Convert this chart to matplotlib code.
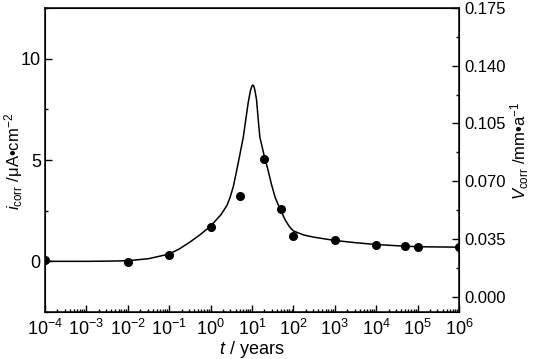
import numpy as np
import matplotlib
matplotlib.use("Agg")
import matplotlib.pyplot as plt
from matplotlib.ticker import LogLocator, NullFormatter, MultipleLocator, FixedLocator

plt.rcParams['font.family'] = ['Liberation Sans', 'DejaVu Sans']
plt.rcParams['mathtext.fontset'] = 'custom'
plt.rcParams['mathtext.rm'] = 'Liberation Sans'
plt.rcParams['mathtext.it'] = 'Liberation Sans:italic'
plt.rcParams['mathtext.bf'] = 'Liberation Sans:bold'

# measured points (t in years, i_corr in uA/cm2)
t_meas = [1e-4, 1e-2, 1e-1, 1, 5, 20, 50, 100, 1e3, 1e4, 5e4, 1e5, 1e6]
i_meas = [0.07, -0.05, 0.3, 1.69, 3.2, 5.05, 2.6, 1.25, 1.05, 0.82, 0.74, 0.7, 0.7]

# model curve (log10 t, i_corr)
logt_fit = [-4.0, -3.5, -3.0, -2.5, -2.0, -1.5, -1.0, -0.75, -0.5, -0.25, 0.0,
            0.25, 0.4, 0.47, 0.55, 0.63, 0.71, 0.79, 0.85, 0.91, 0.96, 1.0, 1.02,
            1.04, 1.07, 1.11, 1.15, 1.19, 1.29, 1.39, 1.47, 1.56, 1.68, 1.8,
            1.9, 2.0, 2.25, 2.5, 3.0, 3.5, 4.0, 4.5, 5.0, 5.5, 6.0]
i_fit = [0.0, 0.0, 0.0, 0.01, 0.03, 0.13, 0.36, 0.62, 0.95, 1.32, 1.74,
         2.3, 2.78, 3.15, 3.7, 4.48, 5.3, 6.13, 7.0, 7.85, 8.4, 8.66, 8.7,
         8.66, 8.45, 7.96, 7.0, 6.13, 5.25, 4.48, 3.8, 3.15, 2.57, 2.05,
         1.72, 1.5, 1.3, 1.19, 1.03, 0.92, 0.83, 0.77, 0.72, 0.71, 0.70]

fs = 12
lfs = 12

fig = plt.figure(figsize=(5.33, 3.59), dpi=100)
ax = fig.add_axes([0.0844, 0.1309, 0.7768, 0.8468])

ax.plot(10 ** np.array(logt_fit), i_fit, color='black', lw=1.1)
ax.plot(t_meas, i_meas, 'o', color='black', ms=5.5, zorder=5)

ax.set_xscale('log')
ax.set_xlim(1e-4, 1e6)
ax.set_ylim(-2.5, 12.5)
ax.xaxis.set_major_locator(FixedLocator([10.0 ** k for k in range(-4, 7)]))
ax.xaxis.set_minor_locator(LogLocator(base=10, subs=np.arange(2, 10), numticks=20))
ax.xaxis.set_minor_formatter(NullFormatter())
ax.set_xticklabels([r'$10^{%d}$' % k for k in range(-4, 7)])
ax.yaxis.set_major_locator(FixedLocator([0, 5, 10]))
ax.yaxis.set_minor_locator(MultipleLocator(2.5))

ax.tick_params(which='major', direction='in', length=5, width=1, labelsize=13, top=False, right=False)
ax.tick_params(which='minor', direction='in', length=2.5, width=1, top=False, right=False)
ax.tick_params(axis='x', which='major', pad=5)
ax.tick_params(axis='y', which='major', pad=3)
for s in ax.spines.values():
    s.set_linewidth(1.1)

ax.set_xlabel(r'$t$ / years', fontsize=13, labelpad=0)
fig.text(14 / 533, 0.55, r'$i_{\rm corr}$ /μA•cm$^{-2}$', fontsize=lfs,
         rotation=90, ha='center', va='center')

ax2 = ax.twinx()
ax2.set_ylim(-0.00927, 0.175)
ax2.yaxis.set_major_locator(FixedLocator([0.0, 0.035, 0.07, 0.105, 0.14, 0.175]))
ax2.yaxis.set_minor_locator(MultipleLocator(0.0175))
ax2.set_yticklabels(['0.000', '0.035', '0.070', '0.105', '0.140', '0.175'])
ax2.tick_params(which='major', direction='in', length=5, width=1, labelsize=fs, pad=4)
ax2.tick_params(which='minor', direction='in', length=2.5, width=1)
fig.text(520 / 533, 0.58, r'$V_{\rm corr}$ /mm•a$^{-1}$', fontsize=lfs,
         rotation=90, ha='center', va='center')

fig.savefig('out.png', dpi=100)
